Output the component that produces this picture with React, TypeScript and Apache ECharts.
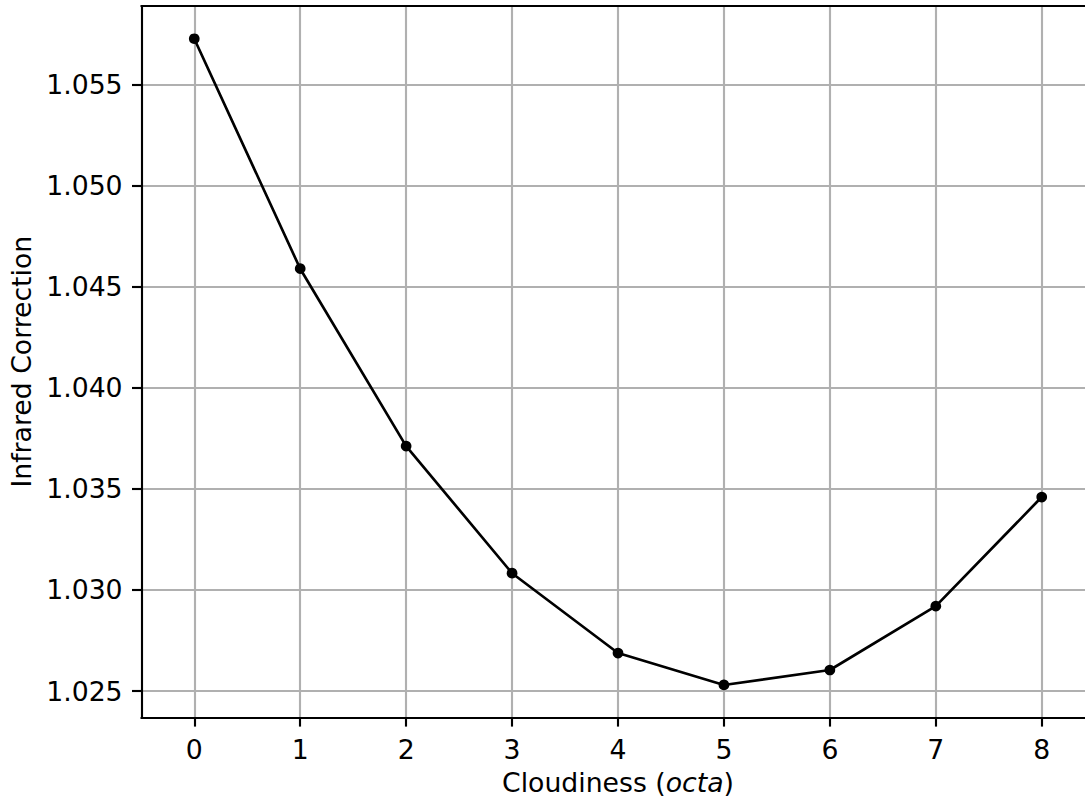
import React, { useEffect, useRef } from "react";
import * as echarts from "echarts";

const cloudiness = [0, 1, 2, 3, 4, 5, 6, 7, 8];
const correction = [1.05728, 1.0459, 1.03712, 1.03083, 1.02688, 1.0253, 1.02604, 1.0292, 1.0346];
const xTicks = [0, 1, 2, 3, 4, 5, 6, 7, 8];
const yTicks = [1.025, 1.03, 1.035, 1.04, 1.045, 1.05, 1.055];

const FONT = "DejaVu Sans";
const FS = 26.7;

export default function App() {
  const ref = useRef<HTMLDivElement>(null);
  useEffect(() => {
    if (!ref.current) return;
    const chart = echarts.init(ref.current, undefined, { renderer: "svg" });
    const data = cloudiness.map((x, i) => [x, correction[i]]);
    chart.setOption({
      animation: false,
      backgroundColor: "#ffffff",
      grid: {
        left: 141.3,
        top: 6,
        width: 953.4,
        bottom: 85.7,
        containLabel: false,
        outerBoundsMode: "none",
      },
      xAxis: [
        {
          type: "value",
          min: -0.5,
          max: 8.5,
          position: "bottom",
          name: "Cloudiness ({i|octa})",
          nameLocation: "middle",
          nameGap: 52,
          nameTextStyle: {
            fontFamily: FONT,
            fontSize: FS,
            color: "#000",
            rich: { i: { fontFamily: FONT, fontSize: FS, fontStyle: "italic", color: "#000" } },
          },
          axisLine: { show: true, onZero: false, lineStyle: { color: "#000", width: 2.13 } },
          axisTick: { show: true, inside: false, length: 9.3, customValues: xTicks, lineStyle: { color: "#000", width: 2.13 } },
          axisLabel: { customValues: xTicks, margin: 18.5, fontFamily: FONT, fontSize: FS, color: "#000" },
          splitLine: { show: true, lineStyle: { color: "#b0b0b0", width: 2.13 } },
        },
        {
          type: "value",
          min: -0.5,
          max: 8.5,
          position: "top",
          axisLine: { show: true, onZero: false, lineStyle: { color: "#000", width: 2.13 } },
          axisTick: { show: false },
          axisLabel: { show: false },
          splitLine: { show: false },
        },
      ],
      yAxis: {
        type: "value",
        min: 1.0237,
        max: 1.0589,
        name: "Infrared Correction",
        nameLocation: "middle",
        nameGap: 106,
        nameTextStyle: { fontFamily: FONT, fontSize: FS, color: "#000" },
        axisLine: { show: true, onZero: false, lineStyle: { color: "#000", width: 2.13 } },
        axisTick: { show: true, inside: false, length: 9.3, customValues: yTicks, lineStyle: { color: "#000", width: 2.13 } },
        axisLabel: {
          customValues: yTicks,
          margin: 18.7,
          fontFamily: FONT,
          fontSize: FS,
          color: "#000",
          formatter: (v: number) => v.toFixed(3),
        },
        splitLine: { show: true, lineStyle: { color: "#b0b0b0", width: 2.13 } },
      },
      series: [
        {
          type: "line",
          data,
          xAxisIndex: 0,
          symbol: "circle",
          symbolSize: 10.7,
          itemStyle: { color: "#000" },
          lineStyle: { color: "#000", width: 2.67 },
          z: 10,
        },
      ],
    });
    return () => chart.dispose();
  }, []);
  return (
    <div
      ref={ref}
      style={{ position: "absolute", left: 0, top: 0, width: 1085, height: 803 }}
    />
  );
}
